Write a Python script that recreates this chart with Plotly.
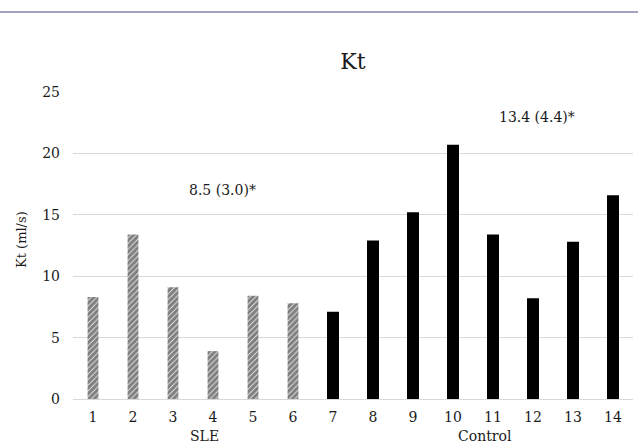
import plotly.graph_objects as go

sle_ids = [1, 2, 3, 4, 5, 6]
sle_kt = [8.3, 13.4, 9.1, 3.9, 8.4, 7.8]
ctrl_ids = [7, 8, 9, 10, 11, 12, 13, 14]
ctrl_kt = [7.1, 12.9, 15.2, 20.7, 13.4, 8.2, 12.8, 16.6]
tick_vals = list(range(1, 15))
tick_text = [str(v) for v in tick_vals]
group_labels = ["SLE", "Control"]
group_pos = [3.78, 10.8]
summary_text = ["8.5 (3.0)*", "13.4 (4.4)*"]
summary_pos = [(4.24, 17.0), (12.1, 22.95)]

FONT = "DejaVu Serif, Liberation Serif, serif"
TXT = "#1a1a1a"

fig = go.Figure()
fig.add_trace(go.Bar(
    x=sle_ids, y=sle_kt, width=0.27,
    marker=dict(color="white", line=dict(width=0),
                pattern=dict(shape="/", fgcolor="black", bgcolor="white", size=4, solidity=0.8)),
    showlegend=False,
))
fig.add_trace(go.Bar(
    x=ctrl_ids, y=ctrl_kt, width=0.3,
    marker=dict(color="black", line=dict(width=0)),
    showlegend=False,
))

for t, (xx, yy) in zip(summary_text, summary_pos):
    fig.add_annotation(x=xx, y=yy, xref="x", yref="y", text=t, showarrow=False,
                       font=dict(family=FONT, size=14, color=TXT))
for t, xx in zip(group_labels, group_pos):
    fig.add_annotation(x=xx, y=-37/307, xref="x", yref="paper", yanchor="middle", text=t,
                       showarrow=False, font=dict(family=FONT, size=14, color=TXT))

# y-axis title as rotated annotation
fig.add_annotation(x=-52/560, y=(399-240)/307, xref="paper", yref="paper", text="Kt (ml/s)",
                   textangle=-90, showarrow=False, xanchor="center", yanchor="middle",
                   font=dict(family=FONT, size=13, color=TXT))

fig.add_shape(type="line", xref="paper", yref="paper",
              x0=-73/560, x1=1+5/560, y0=(399-12)/307, y1=(399-12)/307,
              line=dict(color="#a3a3c4", width=2))

fig.update_layout(
    width=638, height=447,
    margin=dict(l=73, r=5, t=92, b=48),
    paper_bgcolor="white", plot_bgcolor="white",
    title=dict(text="Kt", x=0.5, xref="paper", y=(447-61)/447, yanchor="middle",
               font=dict(family=FONT, size=22, color=TXT)),
    font=dict(family=FONT, size=14, color=TXT),
    bargap=0.7,
)
fig.update_xaxes(range=[0.5, 14.5], tickmode="array", tickvals=tick_vals, ticktext=tick_text,
                 showgrid=False, showline=False, zeroline=False, ticks="", ticklabelstandoff=8,
                 tickfont=dict(family=FONT, size=14, color=TXT))
fig.update_yaxes(range=[0, 25], dtick=5, showgrid=True, gridcolor="#d9d9d9", gridwidth=1,
                 zeroline=True, zerolinecolor="#d9d9d9", zerolinewidth=1, showline=False,
                 ticks="", ticklabelstandoff=12,
                 tickfont=dict(family=FONT, size=14, color=TXT))

fig.write_html("out.html", config={"displayModeBar": False})

# remove default page margin so the figure sits at the window origin
with open("out.html", "r", encoding="utf-8") as f:
    html = f.read()
html = html.replace("<head>", "<head><style>html,body{margin:0;padding:0;overflow:hidden;}</style>", 1)
with open("out.html", "w", encoding="utf-8") as f:
    f.write(html)
